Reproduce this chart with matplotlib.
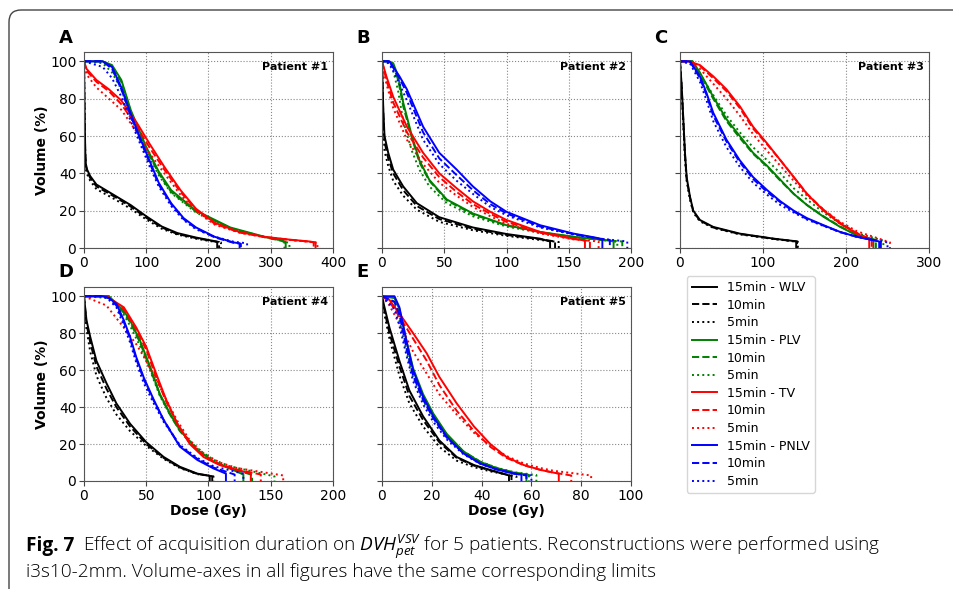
import matplotlib
matplotlib.use("Agg")
import matplotlib.pyplot as plt
from matplotlib.patches import FancyBboxPatch
from matplotlib.lines import Line2D

# ---- Patient #1 (A) ----
p1_wlv_dose = [0, 1, 2, 3, 5, 10, 20, 50, 75, 100, 125, 150, 180, 208]
p1_wlv_vol = [[100, 72, 52, 45, 42, 38.5, 34, 28, 23, 17, 11.5, 8, 5.6, 3.8],
              [100, 70, 50, 44, 41, 37.5, 33, 27.3, 22.2, 16.2, 11, 7.5, 5.3, 3.6],
              [100, 68, 48, 42, 39.5, 36, 31.5, 26, 21, 15.3, 10.3, 7.2, 5, 3.4]]
p1_wlv_end = [(214, 3.4), (217, 3.2), (220, 3.0)]

p1_plv_dose = [0, 30, 45, 60, 75, 100, 120, 140, 180, 235, 290, 318]
p1_plv_vol = [[100, 100, 98, 90, 74, 54, 41, 31, 20, 11, 6, 4],
              [100, 100, 97, 89, 73, 53, 40, 30, 19.5, 10.5, 5.8, 3.8],
              [100, 99, 94, 85, 70, 52, 39, 29.5, 19, 10.5, 6, 4.2]]
p1_plv_end = [(324, 3.2), (322, 3.0), (330, 2.5)]

p1_tv_dose = [0, 4, 20, 40, 60, 85, 105, 130, 155, 180, 210, 250, 290, 330, 362]
p1_tv_vol = [[100, 96, 90, 85, 79, 67, 56, 43, 31, 21, 13.5, 8.5, 6, 4.5, 3.5],
             [100, 95, 89, 84, 77, 65, 54, 41.5, 30, 20.5, 13, 8.3, 5.9, 4.4, 3.4],
             [100, 93, 86, 80, 74, 62, 51, 39.5, 28.5, 19.5, 12.5, 8.2, 5.8, 4.3, 3.3]]
p1_tv_end = [(372, 3.0), (369, 3.0), (375, 2.8)]

p1_pnlv_dose = [0, 30, 45, 60, 75, 90, 105, 120, 140, 160, 180, 210, 240]
p1_pnlv_vol = [[100, 100, 97, 86, 72, 59, 47, 35, 24, 16, 11, 6, 3],
               [100, 100, 96, 85, 71, 58, 46, 34, 23.5, 15.5, 10.5, 5.7, 2.8],
               [100, 97, 91, 81, 68, 56, 44, 33, 22.5, 15, 10, 6, 3.4]]
p1_pnlv_end = [(250, 2.5), (252, 2.3), (262, 2.5)]

# ---- Patient #2 (B) ----
p2_wlv_dose = [0, 1, 2, 5, 9, 17, 28, 46, 73, 100, 127]
p2_wlv_vol = [[100, 75, 60, 51, 42, 33, 24, 16.5, 11, 7.5, 5],
              [100, 72, 57, 48, 40, 31, 22.5, 15.5, 10.3, 7, 4.7],
              [100, 68, 52, 44, 36, 28, 20.5, 14, 9.5, 6.5, 4.3]]
p2_wlv_end = [(135, 3.5), (139, 3.5), (142, 3.2)]

p2_plv_dose = [0, 5, 9, 13, 17, 24, 30, 38, 52, 73, 100, 127, 154, 180]
p2_plv_vol = [[100, 100, 99, 92, 78, 60, 47, 36.5, 26, 18.5, 12.2, 8.6, 6, 4.2],
              [100, 100, 98, 90, 76, 59, 46, 36, 25.5, 18, 12, 8.4, 5.9, 4.1],
              [100, 99, 95, 84, 68, 52, 42, 33, 24, 17, 11.5, 8.2, 5.8, 4]]
p2_plv_end = [(186, 3.5), (193, 3.5), (189, 3.3)]

p2_tv_dose = [0, 3.5, 9, 20, 33, 46, 60, 73, 87, 100, 127, 154]
p2_tv_vol = [[100, 92, 81, 65, 51, 40, 32, 25, 19.4, 15, 8.6, 5],
             [100, 90, 78, 62, 48.5, 38, 30, 23.5, 18.3, 14, 8.2, 4.8],
             [100, 88, 75, 58, 45, 35, 28, 22, 17, 13, 7.8, 4.6]]
p2_tv_end = [(163, 4), (167, 3.8), (174, 3.5)]

p2_pnlv_dose = [0, 6, 14, 20, 33, 46, 60, 73, 87, 100, 127, 154, 172]
p2_pnlv_vol = [[100, 100, 92, 85, 65, 51, 42, 33, 25, 19.4, 12.2, 7.7, 5.5],
               [100, 100, 91, 83, 62, 48, 39, 31, 23.5, 18.5, 11.5, 7.4, 5.3],
               [100, 99, 88, 79, 58, 45, 36, 29, 22, 17.5, 11, 7.2, 5.2]]
p2_pnlv_end = [(177, 4.5), (183, 4.3), (197, 3.5)]

# ---- Patient #3 (C) ----
p3_wlv_dose = [0, 2, 4, 6, 8, 12, 16, 24, 40, 72, 113, 136]
p3_wlv_vol = [[100, 87, 69, 51, 38, 27.5, 20, 15, 11.3, 7.7, 5, 3.8],
              [100, 86, 68, 50, 37, 27, 19.5, 14.7, 11, 7.5, 4.9, 3.7],
              [100, 85, 66, 48, 36, 26, 19, 14.3, 10.8, 7.3, 4.8, 3.6]]
p3_wlv_end = [(140, 3.6), (141, 3.5), (142, 3.4)]

p3_plv_dose = [0, 15, 24, 40, 56, 72, 88, 105, 121, 137, 153, 173, 193, 213]
p3_plv_vol = [[100, 100, 94, 81, 69, 60, 51, 44, 36.5, 29, 23, 16.7, 11.3, 6.8],
              [100, 100, 93, 80, 68, 59, 50.5, 43.5, 36, 29, 23, 17, 11.5, 7],
              [100, 100, 93, 82, 71, 62, 54, 47, 40, 32, 26, 19, 13, 8]]
p3_plv_end = [(233, 4.5), (236, 4.3), (245, 4)]

p3_tv_dose = [0, 10, 24, 40, 56, 72, 88, 105, 121, 137, 153, 173, 193, 213]
p3_tv_vol = [[100, 100, 98, 92, 85, 76, 65, 56, 47, 38, 29, 20, 13, 7.7],
             [100, 100, 97.5, 91, 84, 75, 64, 55.5, 47, 38, 29, 20.5, 13.5, 8],
             [100, 99, 96, 88, 80, 71, 61, 52, 44, 36, 28, 20.5, 14, 9]]
p3_tv_end = [(228, 4.5), (231, 4.5), (253, 3)]

p3_pnlv_dose = [0, 12, 24, 32, 40, 56, 72, 88, 105, 121, 137, 153, 173, 193, 213]
p3_pnlv_vol = [[100, 100, 92, 83, 72.5, 58, 47, 38, 31, 25, 20, 16, 12.2, 8.6, 6],
               [100, 100, 91, 82, 71, 57, 46, 37, 30, 24.5, 19.5, 15.5, 12, 8.5, 6],
               [100, 99, 89, 79, 68, 54, 43.5, 35, 28.5, 23, 19, 15.2, 11.8, 8.5, 6]]
p3_pnlv_end = [(240, 3.5), (242, 3.5), (250, 3)]

# ---- Patient #4 (D) ----
p4_wlv_dose = [0, 2, 5, 10, 18, 26, 37, 50, 64, 77, 91]
p4_wlv_vol = [[100, 87, 78, 65, 53, 42, 31, 21, 13, 7.7, 4],
              [100, 85, 75, 62, 50, 40, 29.5, 20, 12.5, 7.3, 3.8],
              [100, 82, 70, 57, 45, 36, 27, 19, 12, 7, 3.7]]
p4_wlv_end = [(101, 2.8), (103, 2.6), (104, 2.5)]

p4_plv_dose = [0, 20, 32, 37, 45, 53, 61, 69, 77, 91, 104, 117]
p4_plv_vol = [[100, 100, 92, 87, 76, 62, 47, 36.6, 27.6, 16.8, 10.5, 6.8],
              [100, 100, 91, 86, 75, 61, 46.5, 36, 27, 16.5, 10.5, 7],
              [100, 99, 90, 84, 73, 60, 46, 36, 27.5, 17.5, 11.5, 8]]
p4_plv_end = [(128, 3.5), (135, 3.3), (153, 2.5)]

p4_tv_dose = [0, 18, 32, 42, 50, 58, 66, 75, 85, 96, 109, 123]
p4_tv_vol = [[100, 100, 94, 83, 72.6, 58, 44, 31, 20, 13, 8.6, 6],
             [100, 100, 93, 82, 71, 56, 43, 31, 20.5, 13.5, 9, 6.2],
             [100, 95, 83, 74, 65, 55, 44, 32.5, 22, 15, 10, 7]]
p4_tv_end = [(134, 4), (142, 3.5), (160, 3)]

p4_pnlv_dose = [0, 15, 20, 26, 32, 37, 42, 48, 56, 64, 77, 91, 104]
p4_pnlv_vol = [[100, 100, 99, 96, 87, 78, 67, 56, 44, 33, 18.6, 11.4, 6.8],
               [100, 100, 99, 95, 86, 77, 66, 55, 43.5, 33, 19, 12, 7.3],
               [100, 100, 98, 94, 84, 75, 64, 53, 42, 32, 19.5, 12.5, 8]]
p4_pnlv_end = [(114, 4), (121, 3.5), (128, 4)]

# ---- Patient #5 (E) ----
p5_wlv_dose = [0, 1, 3, 7, 11, 16.5, 23, 30, 37, 43.5]
p5_wlv_vol = [[100, 94, 83, 65, 49, 35, 22, 13, 8.6, 6],
              [100, 92, 80, 62, 46, 33, 21, 12.5, 8.3, 5.7],
              [100, 90, 77, 57, 42, 29.5, 18.5, 11, 7.5, 5.2]]
p5_wlv_end = [(51, 3), (52, 2.8), (54, 2.5)]

p5_plv_dose = [0, 5, 7, 10, 12.5, 16.5, 20.6, 26, 32.7, 39.4, 46, 53]
p5_plv_vol = [[100, 99, 93, 75, 61, 47, 36.5, 25.5, 16, 10.3, 7, 4.5],
              [100, 97, 91, 72, 58, 45, 35, 25, 16, 10.5, 7, 4.5],
              [100, 95, 87, 69, 56, 43.5, 34, 24.5, 16, 10.5, 7.2, 4.8]]
p5_plv_end = [(58, 3.5), (59, 3.3), (62, 3.2)]

p5_tv_dose = [0, 3, 7, 12.5, 18, 23, 30, 37, 43.5, 50, 57, 63.7, 69]
p5_tv_vol = [[100, 98, 90.6, 80, 69, 56.4, 42, 29.4, 20, 13, 8.6, 6, 4.5],
             [100, 97, 89, 77, 65, 52, 38, 27, 18.5, 12.5, 8.5, 6, 4.5],
             [100, 95, 85, 70, 58, 47, 36, 26, 19, 13.5, 9.5, 7, 5.5]]
p5_tv_end = [(71, 4), (76, 3), (84, 3)]

p5_pnlv_dose = [0, 5, 7, 10, 12.5, 16.5, 20.6, 26, 32.7, 39.4, 46, 53]
p5_pnlv_vol = [[100, 100, 94, 74.6, 60, 45.6, 35, 24, 15, 9.5, 6.3, 4],
               [100, 97, 90, 71, 57, 44, 34, 23.5, 15, 9.5, 6.3, 4],
               [100, 93, 84, 67, 54, 41.5, 32, 22.5, 14.5, 9.3, 6.3, 4.2]]
p5_pnlv_end = [(56, 3.5), (58, 3), (60, 3)]

structures = ['WLV', 'PLV', 'TV', 'PNLV']
struct_colors = ['black', 'green', 'red', 'blue']
durations = ['15min', '10min', '5min']
dur_styles = ['-', '--', ':']

patients = [
    ('A', 'Patient #1', (0, 400), [0, 100, 200, 300, 400],
     [(p1_wlv_dose, p1_wlv_vol, p1_wlv_end), (p1_plv_dose, p1_plv_vol, p1_plv_end),
      (p1_tv_dose, p1_tv_vol, p1_tv_end), (p1_pnlv_dose, p1_pnlv_vol, p1_pnlv_end)]),
    ('B', 'Patient #2', (0, 200), [0, 50, 100, 150, 200],
     [(p2_wlv_dose, p2_wlv_vol, p2_wlv_end), (p2_plv_dose, p2_plv_vol, p2_plv_end),
      (p2_tv_dose, p2_tv_vol, p2_tv_end), (p2_pnlv_dose, p2_pnlv_vol, p2_pnlv_end)]),
    ('C', 'Patient #3', (0, 300), [0, 100, 200, 300],
     [(p3_wlv_dose, p3_wlv_vol, p3_wlv_end), (p3_plv_dose, p3_plv_vol, p3_plv_end),
      (p3_tv_dose, p3_tv_vol, p3_tv_end), (p3_pnlv_dose, p3_pnlv_vol, p3_pnlv_end)]),
    ('D', 'Patient #4', (0, 200), [0, 50, 100, 150, 200],
     [(p4_wlv_dose, p4_wlv_vol, p4_wlv_end), (p4_plv_dose, p4_plv_vol, p4_plv_end),
      (p4_tv_dose, p4_tv_vol, p4_tv_end), (p4_pnlv_dose, p4_pnlv_vol, p4_pnlv_end)]),
    ('E', 'Patient #5', (0, 100), [0, 20, 40, 60, 80, 100],
     [(p5_wlv_dose, p5_wlv_vol, p5_wlv_end), (p5_plv_dose, p5_plv_vol, p5_plv_end),
      (p5_tv_dose, p5_tv_vol, p5_tv_end), (p5_pnlv_dose, p5_pnlv_vol, p5_pnlv_end)]),
]

W, H = 954, 589
# axes boxes in pixels: left, top, right, bottom
boxes = [(84, 52, 333, 248), (382, 52, 631, 248), (680, 52, 929, 248),
         (84, 287, 333, 481), (382, 287, 631, 481)]
letter_pos = [(66, 38), (363, 38), (661, 38), (66, 272), (363, 272)]

fig = plt.figure(figsize=(W / 100, H / 100), dpi=100)

for i, (letter, title, xlim, xticks, curves) in enumerate(patients):
    l, t, r, b = boxes[i]
    ax = fig.add_axes([l / W, 1 - b / H, (r - l) / W, (b - t) / H])
    for (dose, vols, ends), col in zip(curves, struct_colors):
        for v, (ed, ev), ls in zip(vols, ends, dur_styles):
            ax.plot(list(dose) + [ed, ed], list(v) + [ev, 0], color=col, ls=ls, lw=1.4)
    ax.set_xlim(*xlim)
    ax.set_ylim(0, 105)
    ax.set_xticks(xticks)
    ax.set_yticks([0, 20, 40, 60, 80, 100])
    ax.grid(True, linestyle=':', color='#888888', linewidth=0.8)
    ax.tick_params(labelsize=10, length=3.5, pad=2, color='#444444')
    for sp in ax.spines.values():
        sp.set_color('#555555')
    if i in (0, 3):
        ax.set_ylabel('Volume (%)', fontsize=10, fontweight='bold', labelpad=1)
    else:
        ax.tick_params(labelleft=False)
    if i >= 3:
        ax.set_xlabel('Dose (Gy)', fontsize=10, fontweight='bold', labelpad=1)
    ax.text(0.98, 0.925, title, transform=ax.transAxes, ha='right', va='center',
            fontsize=8, fontweight='bold')
    fig.text(letter_pos[i][0] / W, 1 - letter_pos[i][1] / H, letter,
             fontsize=13, fontweight='bold', ha='center', va='center')

# legend
handles = []
labels = []
for s, col in zip(structures, struct_colors):
    for k, (d, ls) in enumerate(zip(durations, dur_styles)):
        handles.append(Line2D([], [], color=col, ls=ls, lw=1.4))
        labels.append(d + ' - ' + s if k == 0 else d)
fig.legend(handles, labels, loc='upper left', bbox_to_anchor=(687 / W, 1 - 276 / H),
           bbox_transform=fig.transFigure, borderaxespad=0, fontsize=9,
           labelspacing=0.37, handlelength=2.0, frameon=True)

# caption
cap_font = 'Open Sans'
cap_size = 13.7
plt.rcParams['mathtext.fontset'] = 'custom'
plt.rcParams['mathtext.it'] = cap_font + ':italic'
plt.rcParams['mathtext.rm'] = cap_font
t1 = fig.text(26 / W, 1 - 551 / H, 'Fig. 7', family=cap_font, fontweight='bold',
              fontsize=cap_size, va='baseline')
fig.canvas.draw()
bb = t1.get_window_extent(renderer=fig.canvas.get_renderer())
fig.text((bb.x1 + 9) / W, 1 - 551 / H,
         r'Effect of acquisition duration on $DVH^{VSV}_{pet}$ for 5 patients. '
         'Reconstructions were performed using',
         family=cap_font, fontsize=cap_size, fontweight='light', va='baseline')
fig.text(26 / W, 1 - 577 / H,
         'i3s10-2mm. Volume-axes in all figures have the same corresponding limits',
         family=cap_font, fontsize=cap_size, fontweight='light', va='baseline')

# outer frame (open at right and bottom)
frame = FancyBboxPatch((0.09, -1.0), 12, 5.79 + 1.0,
                       boxstyle='round,pad=0,rounding_size=0.12',
                       transform=fig.dpi_scale_trans, fill=False,
                       edgecolor='#444444', lw=1.0)
fig.patches.append(frame)

fig.savefig('out.png', dpi=100)
